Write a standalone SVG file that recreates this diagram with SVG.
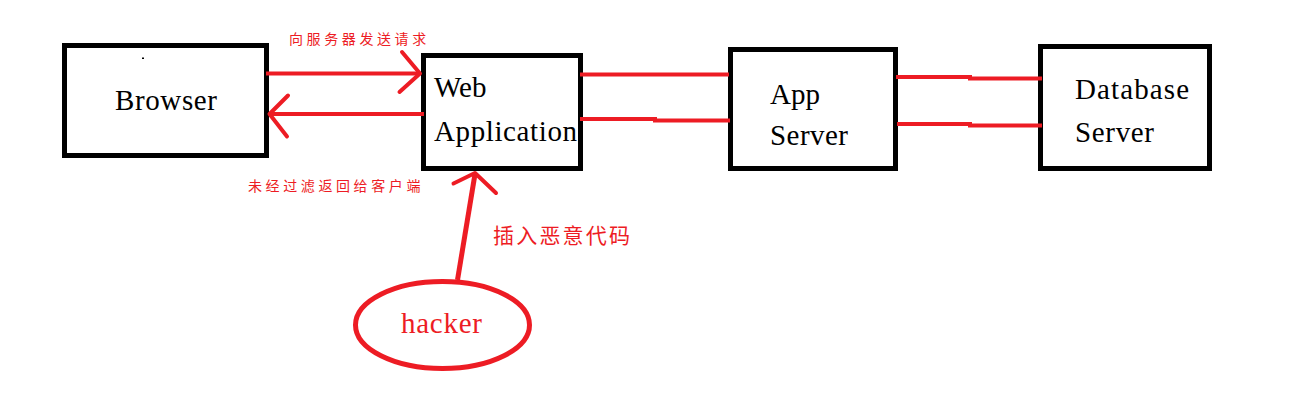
<svg xmlns="http://www.w3.org/2000/svg" width="1296" height="419" viewBox="0 0 1296 419">
  <style>
    .box { fill: #ffffff; stroke: #000000; stroke-width: 5; }
    .name { font-family: "Liberation Serif", "Times New Roman", serif; font-size: 29px; fill: #000000; }
    .red { stroke: #ed1c24; stroke-width: 4; fill: none; }
    .head { stroke: #ed1c24; stroke-width: 4; fill: none; stroke-linecap: round; stroke-linejoin: round; }
    .cn { font-family: "Noto Sans CJK SC", "Noto Sans", sans-serif; fill: #ed1c24; }
  </style>
  <rect width="1296" height="419" fill="#ffffff"/>

  <g id="browser">
    <rect class="box" x="64.5" y="45.5" width="202" height="110"/>
    <rect x="142" y="57.5" width="2" height="1.5" fill="#000000"/>
    <text class="name" x="115" y="110" textLength="102" lengthAdjust="spacing">Browser</text>
  </g>

  <g id="web-application">
    <rect class="box" x="423.5" y="55.5" width="157" height="113"/>
    <text class="name" x="434" y="97">Web</text>
    <text class="name" x="434" y="141" textLength="143" lengthAdjust="spacing">Application</text>
  </g>

  <g id="app-server">
    <rect class="box" x="730.5" y="49.5" width="165" height="119"/>
    <text class="name" x="770" y="104">App</text>
    <text class="name" x="770" y="145" textLength="78" lengthAdjust="spacing">Server</text>
  </g>

  <g id="database-server">
    <rect class="box" x="1040.5" y="46.5" width="169" height="122"/>
    <text class="name" x="1075" y="99" textLength="114" lengthAdjust="spacing">Database</text>
    <text class="name" x="1075" y="142" textLength="79" lengthAdjust="spacing">Server</text>
  </g>

  <g id="hacker">
    <ellipse cx="442.5" cy="325" rx="87" ry="43.5" fill="none" stroke="#ed1c24" stroke-width="5"/>
    <text x="401" y="333" font-family="Liberation Serif, Times New Roman, serif" font-size="29" fill="#ed1c24" textLength="81" lengthAdjust="spacing">hacker</text>
  </g>

  <g id="connectors">
    <!-- Browser -> Web Application request -->
    <line class="red" x1="266" y1="73.5" x2="420" y2="73.5"/>
    <polyline class="head" points="402,52 420,73.5 399.5,92"/>
    <!-- Web Application -> Browser response -->
    <line class="red" x1="424" y1="114" x2="270" y2="114"/>
    <polyline class="head" points="288,95.5 269.5,114 287,136.5"/>
    <!-- Web Application - App Server -->
    <line class="red" x1="580" y1="74.5" x2="729" y2="74.5"/>
    <polyline class="red" points="580,119 655,119 655,120.5 730,120.5"/>
    <!-- App Server - Database Server -->
    <polyline class="red" points="896,77 970,77 970,78.5 1042,78.5"/>
    <polyline class="red" points="897,124 970,124 970,125.5 1042,125.5"/>
    <!-- hacker -> Web Application -->
    <line x1="457.5" y1="280" x2="475" y2="174" stroke="#ed1c24" stroke-width="5"/>
    <polyline class="head" points="453.5,183.5 475,173 496,193" stroke-width="5"/>
  </g>

  <g id="labels">
    <text class="cn" x="289" y="44" font-size="14" letter-spacing="3.6">向服务器发送请求</text>
    <text class="cn" x="248" y="191" font-size="14" letter-spacing="3.6">未经过滤返回给客户端</text>
    <text class="cn" x="493" y="243" font-size="21" letter-spacing="2.2">插入恶意代码</text>
  </g>
</svg>
